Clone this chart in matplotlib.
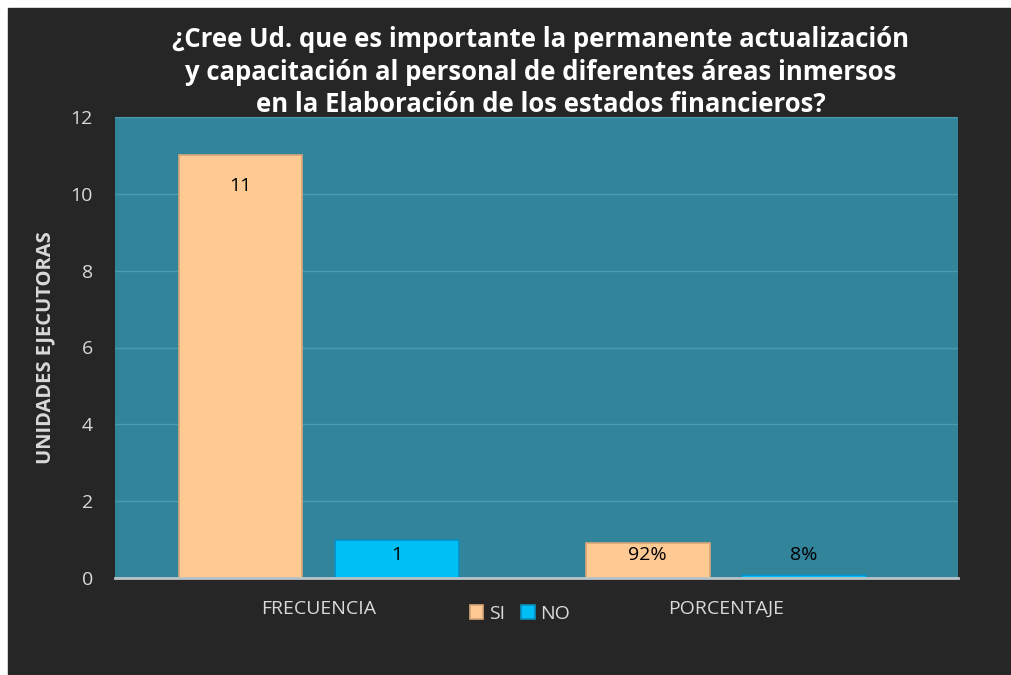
import matplotlib.pyplot as plt
from matplotlib.patches import Rectangle
import numpy as np

categories = ["FRECUENCIA", "PORCENTAJE"]
si_values = [11, 0.92]
no_values = [1, 0.08]
si_labels = ["11", "92%"]
no_labels = ["1", "8%"]
yticks = [0, 2, 4, 6, 8, 10, 12]

title = ("¿Cree Ud. que es importante la permanente actualización\n"
         "y capacitación al personal de diferentes áreas inmersos\n"
         "en la Elaboración de los estados financieros?")

BG = "#262626"
PLOT_BG = "#32849b"
SI_COLOR = "#ffc993"
NO_COLOR = "#00bff5"
TEXT = "#d9d9d9"


def main():
    plt.rcParams['font.family'] = ['Open Sans', 'DejaVu Sans']
    fig = plt.figure(figsize=(10.12, 6.75), dpi=100, facecolor="white")
    # dark chart area, leaving a thin white strip at top and left
    fig.patches.append(Rectangle((8 / 1012, 0), 1, 1 - 8 / 675,
                                 transform=fig.transFigure, color=BG, zorder=-10))

    ax = fig.add_axes([115 / 1012, 1 - 578 / 675, (958 - 115) / 1012, (578 - 117) / 675])
    ax.set_facecolor(PLOT_BG)

    x = np.arange(len(categories))
    width = 0.304
    off = 0.192
    bars_si = ax.bar(x - off, si_values, width, color=SI_COLOR, edgecolor="#d9a676",
                     linewidth=1.2, label="SI", zorder=3)
    bars_no = ax.bar(x + off, no_values, width, color=NO_COLOR, edgecolor="#0a8fc0",
                     linewidth=1.2, label="NO", zorder=3)

    for bars, labels in [(bars_si, si_labels), (bars_no, no_labels)]:
        for b, lab in zip(bars, labels):
            h = b.get_height()
            y = max(h - 0.8, 0.6)
            ax.text(b.get_x() + b.get_width() / 2, y, lab, ha="center", va="center",
                    fontsize=14, color="black", zorder=4)

    ax.set_xlim(-0.5, 1.57)
    ax.set_ylim(0, 12)
    ax.set_yticks(yticks)
    ax.set_xticks(x)
    ax.set_xticklabels(categories)
    ax.tick_params(axis="both", length=0, colors=TEXT, labelsize=14)
    ax.tick_params(axis="x", pad=16)
    ax.tick_params(axis="y", pad=16)
    ax.grid(axis="y", color="#4a9ab0", linewidth=1, zorder=0)
    for s in ["top", "right", "left"]:
        ax.spines[s].set_visible(False)
    ax.spines["bottom"].set_color("#b8c4c8")
    ax.spines["bottom"].set_linewidth(2)
    ax.spines["bottom"].set_zorder(5)

    fig.text(45 / 1012, 1 - 348 / 675, "UNIDADES EJECUTORAS", rotation=90,
             ha="center", va="center", fontsize=14.5, fontweight="bold", color=TEXT)

    fig.text(541 / 1012, 1 - 72 / 675, title, ha="center", va="center",
             fontsize=18.5, fontweight="bold", color="white", linespacing=1.25)

    leg = fig.legend(handles=[bars_si, bars_no], labels=["SI", "NO"], loc="center",
                     bbox_to_anchor=(520 / 1012, 1 - 614 / 675), ncol=2, frameon=False,
                     fontsize=14, handlelength=0.7, handleheight=0.7, handletextpad=0.3,
                     columnspacing=0.8)
    for t in leg.get_texts():
        t.set_color(TEXT)

    fig.savefig("out.png", dpi=100, facecolor=fig.get_facecolor())


if __name__ == "__main__":
    main()
